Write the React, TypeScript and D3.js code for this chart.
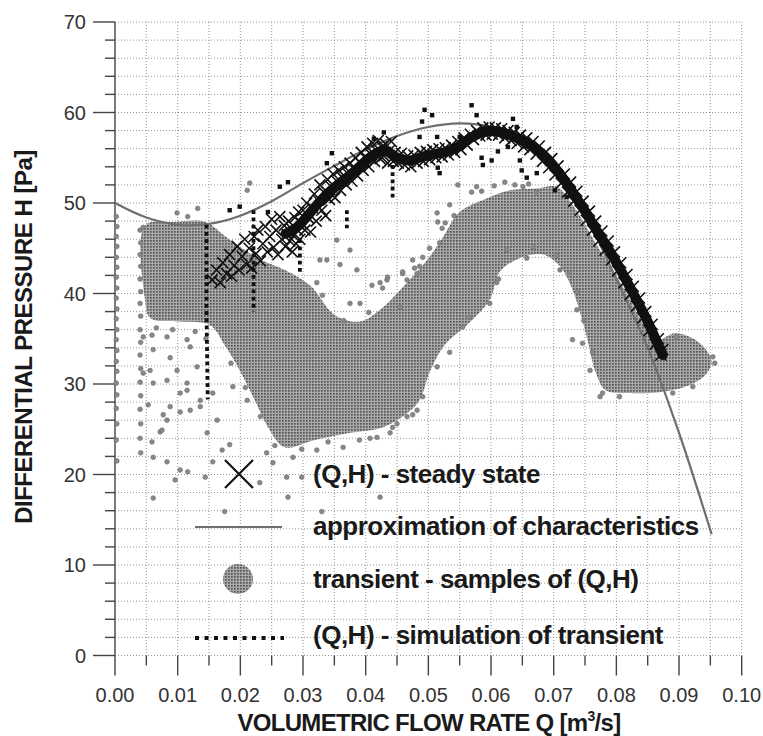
import React, { useEffect, useRef } from 'react';
import * as d3 from 'd3';

// axis ticks
const qTicks = [0, 0.01, 0.02, 0.03, 0.04, 0.05, 0.06, 0.07, 0.08, 0.09, 0.1];
const qTickLabels = ['0.00', '0.01', '0.02', '0.03', '0.04', '0.05', '0.06', '0.07', '0.08', '0.09', '0.10'];
const qMinorTicks = [0.005, 0.015, 0.025, 0.035, 0.045, 0.055, 0.065, 0.075, 0.085, 0.095];
const hTicks = [0, 10, 20, 30, 40, 50, 60, 70];
const hTickLabels = ['0', '10', '20', '30', '40', '50', '60', '70'];
const hMinorTicks = [2, 4, 6, 8, 12, 14, 16, 18, 22, 24, 26, 28, 32, 34, 36, 38, 42, 44, 46, 48, 52, 54, 56, 58, 62, 64, 66, 68];

// approximation of characteristics
const approxQ = [0, 0.005, 0.01, 0.015, 0.02, 0.025, 0.03, 0.035, 0.04, 0.045, 0.05, 0.055, 0.06, 0.065, 0.07, 0.075, 0.08, 0.085, 0.09, 0.0952];
const approxH = [50.0, 48.4, 47.6, 47.7, 48.6, 50.2, 52.2, 54.1, 55.9, 57.4, 58.4, 58.8, 58.4, 56.8, 53.6, 48.6, 41.6, 34.0, 24.6, 13.4];

// (Q,H) steady state
const steadyState = [
  [0.0155, 41.5], [0.0162, 42.6], [0.0168, 41.2], [0.0172, 43.4], [0.0178, 42.2], [0.0183, 44.3], [0.0186, 41.9], [0.019, 43.1],
  [0.0195, 45.2], [0.0198, 42.6], [0.0203, 44.1], [0.0207, 46.0], [0.021, 43.2], [0.0214, 45.0], [0.0218, 42.8], [0.0222, 46.3],
  [0.0225, 44.4], [0.0228, 47.0], [0.0232, 43.6], [0.0236, 45.5], [0.024, 47.4], [0.0243, 44.6], [0.0247, 46.3], [0.025, 48.2],
  [0.0253, 45.1], [0.0257, 47.0], [0.026, 44.3], [0.0263, 48.5], [0.0266, 46.0], [0.027, 47.5],
  [0.0272, 45.2], [0.0275, 46.5], [0.0277, 48.0], [0.0279, 45.8], [0.0281, 47.2], [0.0283, 44.6], [0.0285, 46.4], [0.0287, 48.4],
  [0.0289, 45.5], [0.0291, 47.0], [0.0293, 49.0], [0.0295, 46.0], [0.0297, 47.8],
  [0.03, 49.2], [0.0303, 47.0], [0.0306, 50.0], [0.0309, 48.3], [0.0312, 46.8], [0.0315, 49.5], [0.0318, 51.0], [0.0321, 48.0],
  [0.0324, 50.3], [0.0327, 52.0], [0.033, 49.2], [0.0333, 51.2], [0.0336, 48.6], [0.0339, 52.6], [0.0342, 50.4], [0.0345, 51.8],
  [0.0348, 53.2], [0.0351, 50.6], [0.0354, 52.4], [0.0357, 53.6], [0.036, 51.4], [0.0363, 52.8], [0.0366, 54.0], [0.0369, 52.0],
  [0.0372, 53.2], [0.0375, 54.4], [0.0378, 52.4], [0.0381, 53.8], [0.0384, 55.0], [0.0387, 53.0], [0.039, 54.5], [0.0393, 55.6],
  [0.0396, 53.6], [0.0399, 55.0], [0.0402, 56.2], [0.0405, 54.0], [0.0408, 55.4], [0.0411, 56.6], [0.0414, 54.6], [0.0417, 55.8],
  [0.042, 56.9], [0.0423, 54.9], [0.0426, 56.2], [0.0429, 55.2], [0.0432, 56.5], [0.0435, 54.4], [0.0438, 55.8], [0.0441, 56.8],
  [0.0444, 54.6], [0.0447, 55.6],
  [0.0452, 54.4], [0.0457, 55.5], [0.0462, 54.2], [0.0467, 55.2], [0.0472, 54.0], [0.0477, 55.3], [0.0482, 54.4], [0.0487, 55.6],
  [0.0492, 54.6], [0.0497, 55.7], [0.0502, 54.8], [0.0507, 55.9], [0.0512, 55.0], [0.0517, 56.0], [0.0522, 55.1], [0.0527, 56.1],
  [0.0532, 55.3], [0.0537, 56.4], [0.0542, 55.6], [0.0547, 56.8], [0.0552, 55.9], [0.0557, 57.2], [0.0562, 56.4], [0.0567, 57.6],
  [0.0572, 57.0], [0.0577, 58.0],
  [0.0582, 57.4], [0.0587, 58.3], [0.0592, 57.5], [0.0597, 58.4], [0.0602, 57.6], [0.0607, 58.3], [0.0612, 57.5], [0.0617, 58.2],
  [0.0622, 57.2], [0.0627, 58.0], [0.0632, 56.9], [0.0637, 57.8], [0.0642, 56.6], [0.0647, 57.5], [0.0652, 56.2], [0.0657, 57.2],
  [0.0662, 55.9], [0.0667, 56.8], [0.0672, 55.4], [0.0677, 56.3],
  [0.0682, 54.6], [0.0687, 55.6], [0.0692, 53.9], [0.0697, 54.9], [0.0702, 53.1], [0.0707, 54.1], [0.0712, 52.2], [0.0717, 53.2],
  [0.0722, 51.2], [0.0727, 52.3], [0.0732, 50.2], [0.0737, 51.3], [0.0742, 49.2], [0.0747, 50.2], [0.0752, 48.1], [0.0757, 49.1],
  [0.0762, 47.0], [0.0767, 48.0], [0.0772, 45.8], [0.0777, 46.9], [0.0782, 44.8], [0.0787, 45.8], [0.0792, 43.7], [0.0797, 44.6],
  [0.0802, 42.5], [0.0807, 43.4], [0.0812, 41.2], [0.0817, 42.1], [0.0822, 39.9], [0.0827, 40.8], [0.0832, 38.6], [0.0837, 39.5],
  [0.0842, 37.3], [0.0847, 38.0], [0.0852, 35.9], [0.0857, 36.6], [0.0862, 34.4], [0.0867, 35.0], [0.0871, 33.2], [0.0874, 33.8],
];
// dense core of the steady-state band
const steadyCore = [
  [0.0272, 46.6], [0.029, 47.3], [0.031, 48.8], [0.033, 50.4], [0.035, 51.7], [0.037, 52.8], [0.039, 54.0], [0.041, 55.2],
  [0.043, 55.8], [0.045, 55.0], [0.047, 54.7], [0.049, 55.1], [0.051, 55.4], [0.053, 55.7], [0.055, 56.3], [0.057, 57.3],
  [0.059, 57.9], [0.061, 57.9], [0.063, 57.5], [0.065, 56.9], [0.067, 56.1], [0.069, 54.9], [0.071, 53.2], [0.073, 51.2],
  [0.075, 49.1], [0.077, 46.8], [0.079, 44.6], [0.081, 42.2], [0.083, 39.6], [0.085, 36.9], [0.0865, 34.6], [0.0874, 33.2],
];

// transient - outline of the dense sample cloud
const transientCloud = [
  [0.0048, 47.5], [0.0096, 47.9], [0.0144, 47.9], [0.018, 46.1], [0.0228, 43.9], [0.0271, 42.6], [0.0311, 40.9], [0.0351, 37.6],
  [0.0391, 36.9], [0.0423, 38.2], [0.0455, 40.4], [0.0498, 43.7], [0.0523, 46.2], [0.055, 49.0], [0.0593, 50.5], [0.063, 51.4],
  [0.0673, 51.6], [0.0705, 51.8], [0.0725, 50.3], [0.0745, 48.2], [0.0765, 45.8], [0.079, 43.0], [0.0815, 40.2], [0.084, 37.0],
  [0.0862, 34.8], [0.0893, 35.6], [0.092, 35.1], [0.0943, 33.8], [0.0952, 32.4], [0.0941, 30.9], [0.0914, 29.8], [0.0869, 29.1],
  [0.0821, 29.0], [0.0783, 29.3], [0.0767, 31.3], [0.0754, 34.9], [0.0742, 37.9], [0.0729, 40.6], [0.071, 43.0], [0.0683, 44.3],
  [0.0646, 43.9], [0.0614, 42.4], [0.0598, 39.3], [0.0566, 36.8], [0.0526, 34.3], [0.0502, 31.3], [0.0486, 28.2], [0.0463, 26.6],
  [0.0427, 25.2], [0.0375, 24.6], [0.0319, 23.8], [0.0271, 23.0], [0.0247, 24.9], [0.0223, 28.2], [0.0199, 31.5], [0.0175, 34.3],
  [0.0152, 36.5], [0.0104, 36.9], [0.0056, 37.3], [0.0048, 39.3],
];

// transient - single samples outside the dense cloud
const transientSamples = [
  [0.0002, 48.5], [0.0003, 47.4], [0.0002, 46.3], [0.0003, 45.2], [0.0002, 44.0], [0.0003, 42.9], [0.0002, 41.8], [0.0003, 40.6],
  [0.0002, 39.5], [0.0003, 38.3], [0.0002, 37.2], [0.0003, 36.0], [0.0002, 34.9], [0.0003, 33.7], [0.0002, 32.5], [0.0003, 31.4],
  [0.0002, 30.1], [0.0003, 28.8], [0.0002, 27.3], [0.0003, 25.6], [0.0002, 23.8], [0.0003, 21.5],
  [0.004, 47.0], [0.0041, 45.6], [0.004, 44.3], [0.0041, 43.0], [0.004, 41.6], [0.0041, 40.2], [0.004, 38.9], [0.0041, 37.5],
  [0.004, 36.0], [0.0041, 34.6], [0.004, 33.2], [0.0041, 31.7], [0.004, 30.2], [0.0041, 28.7], [0.004, 27.2], [0.0041, 25.6],
  [0.004, 24.0], [0.0041, 22.4],
  [0.0045, 35.2], [0.0059, 35.4], [0.0083, 35.2], [0.0061, 33.8], [0.0088, 32.9], [0.0115, 34.9], [0.012, 34.1], [0.0099, 31.5],
  [0.0056, 31.5], [0.0083, 30.4], [0.0115, 30.1], [0.0131, 31.9], [0.0104, 29.0], [0.0088, 27.5], [0.0083, 26.0], [0.012, 27.1],
  [0.0136, 27.5], [0.0163, 26.0], [0.0147, 24.6], [0.0072, 24.7], [0.0061, 30.1], [0.0053, 27.7], [0.0077, 26.6], [0.0104, 26.9],
  [0.0059, 23.6], [0.0075, 24.9], [0.0061, 21.9], [0.0083, 21.4], [0.0096, 19.4], [0.0104, 20.5], [0.0116, 20.3], [0.0061, 17.4],
  [0.0156, 21.4], [0.0171, 22.7], [0.0183, 23.3], [0.0144, 19.7], [0.0175, 15.9], [0.0231, 19.1], [0.0252, 21.3], [0.0276, 17.5],
  [0.0274, 19.7], [0.0298, 19.7], [0.0324, 20.8], [0.0423, 17.5], [0.0115, 29.3], [0.0136, 28.2], [0.0156, 29.0], [0.0188, 29.7],
  [0.0211, 28.2], [0.0045, 31.2], [0.033, 15.9],
  [0.0099, 48.9], [0.0132, 49.4], [0.0116, 48.5], [0.0045, 47.3], [0.0215, 52.2], [0.0211, 51.4],
  [0.0338, 43.7], [0.0327, 43.7], [0.0359, 43.2], [0.0375, 44.8], [0.0354, 45.9], [0.0386, 42.6], [0.0391, 38.9], [0.0375, 38.9],
  [0.0434, 41.5], [0.0423, 41.2], [0.0459, 42.2], [0.0482, 42.2], [0.0475, 43.7], [0.0491, 44.0], [0.0518, 45.6], [0.0534, 49.8],
  [0.0514, 48.9], [0.0515, 47.9],
  [0.0242, 22.4], [0.0284, 21.9], [0.0322, 22.7], [0.0364, 23.0], [0.0407, 24.0], [0.0439, 24.6], [0.0466, 26.4], [0.0482, 27.1],
  [0.0491, 28.6], [0.0443, 25.2], [0.0418, 24.1],
  [0.0522, 47.2], [0.0569, 51.2], [0.0577, 51.8], [0.0638, 52.0], [0.0651, 51.8], [0.0547, 52.0], [0.0622, 52.3], [0.0673, 51.2],
  [0.0478, 42.8], [0.0459, 42.4], [0.0435, 41.8], [0.041, 40.9], [0.0427, 40.6], [0.0455, 38.5],
  [0.071, 42.6], [0.0737, 38.2], [0.073, 34.9], [0.0746, 34.5], [0.0758, 31.5], [0.0774, 28.6], [0.0657, 43.9], [0.0609, 41.2],
  [0.0598, 38.9], [0.0566, 37.4], [0.0555, 36.3], [0.0534, 33.5], [0.0514, 31.9], [0.0475, 26.6],
  [0.0896, 35.2], [0.0954, 33.0], [0.0957, 32.3], [0.0922, 29.7], [0.089, 29.0], [0.0805, 28.6], [0.0778, 29.0],
  [0.0466, 41.5], [0.0486, 43.0], [0.0502, 45.0], [0.0527, 47.8], [0.0541, 48.6], [0.0585, 51.3], [0.0605, 51.9], [0.066, 52.1],
  [0.0625, 44.8], [0.0668, 45.1], [0.0705, 44.2], [0.0725, 42.3], [0.0738, 40.2], [0.0748, 37.0], [0.0762, 33.5], [0.0612, 41.6],
  [0.0255, 23.2], [0.0298, 22.8], [0.034, 23.6], [0.039, 23.8], [0.045, 25.6], [0.0066, 36.2], [0.0092, 36.0], [0.0128, 35.8],
  [0.0145, 35.0], [0.0185, 32.3], [0.0208, 29.6], [0.0232, 26.4], [0.0331, 39.8], [0.0365, 37.0], [0.0405, 37.9], [0.0322, 41.2],
];

// (Q,H) simulation of transient
const simulationTraces = [
  [[0.0146, 47.6], [0.0146, 38.0], [0.0148, 28.3]],
  [[0.0221, 49.2], [0.0221, 38.0]],
  [[0.0295, 46.0], [0.0295, 42.4]],
  [[0.037, 49.2], [0.037, 47.2]],
  [[0.0443, 54.2], [0.0443, 50.6]],
];
const simulationPoints = [
  [0.0263, 51.8], [0.0276, 52.3], [0.0338, 54.4], [0.0346, 55.5], [0.0413, 57.1], [0.0429, 57.8], [0.049, 59.0], [0.0244, 49.0],
  [0.0183, 49.2], [0.0199, 49.6], [0.0494, 60.3], [0.0506, 59.7], [0.0569, 60.8], [0.0577, 59.7], [0.0635, 59.3], [0.0641, 58.4],
  [0.0486, 57.3], [0.0514, 57.3], [0.0515, 53.9], [0.0518, 53.3], [0.055, 57.3], [0.0585, 55.0], [0.0601, 54.7], [0.0587, 54.2],
  [0.0611, 55.7], [0.0627, 56.2], [0.0646, 54.7], [0.0649, 53.6], [0.0657, 52.8], [0.0673, 53.3], [0.0702, 51.4], [0.0721, 50.7],
];

const legendLabels = ['(Q,H) - steady state', 'approximation of characteristics', 'transient - samples of (Q,H)', '(Q,H) - simulation of transient'];

const FONT = '"Liberation Sans", Arial, sans-serif';

function Chart() {
  const svgRef = useRef<SVGSVGElement>(null);

  useEffect(() => {
    const svg = d3.select(svgRef.current);
    svg.selectAll('*').remove();

    const x = d3.scaleLinear().domain([0, 0.1]).range([115, 741.7]);
    const y = d3.scaleLinear().domain([0, 70]).range([655.5, 22]);

    const defs = svg.append('defs');
    const pat = defs.append('pattern').attr('id', 'halftone')
      .attr('width', 3).attr('height', 3).attr('patternUnits', 'userSpaceOnUse');
    pat.append('rect').attr('width', 3).attr('height', 3).attr('fill', '#a9a9a9');
    pat.append('rect').attr('width', 1.7).attr('height', 1.7).attr('fill', '#555');

    // grid
    const grid = svg.append('g').attr('stroke', '#8a8a8a').attr('stroke-width', 0.9).attr('stroke-dasharray', '1,2');
    [...hTicks, ...hMinorTicks].forEach(h => {
      grid.append('line').attr('x1', x(0)).attr('x2', x(0.1)).attr('y1', y(h)).attr('y2', y(h));
    });
    [...qTicks.slice(1), ...qMinorTicks].forEach(q => {
      grid.append('line').attr('x1', x(q)).attr('x2', x(q)).attr('y1', y(70)).attr('y2', y(0));
    });

    // axes
    const ax = svg.append('g').attr('stroke', '#444').attr('stroke-width', 1.4);
    ax.append('line').attr('x1', x(0)).attr('x2', x(0)).attr('y1', y(70)).attr('y2', y(0) + 20);
    hTicks.forEach(h => ax.append('line').attr('x1', x(0) - 22).attr('x2', x(0)).attr('y1', y(h)).attr('y2', y(h)));
    hMinorTicks.forEach(h => ax.append('line').attr('x1', x(0) - 10).attr('x2', x(0)).attr('y1', y(h)).attr('y2', y(h)));
    qTicks.slice(1).forEach(q => ax.append('line').attr('x1', x(q)).attr('x2', x(q)).attr('y1', y(0)).attr('y2', y(0) + 20));
    qMinorTicks.forEach(q => ax.append('line').attr('x1', x(q)).attr('x2', x(q)).attr('y1', y(0)).attr('y2', y(0) + 10));

    svg.append('g').selectAll('text').data(hTicks).enter().append('text')
      .attr('x', x(0) - 29).attr('y', d => y(d) + 7)
      .attr('text-anchor', 'end').attr('font-family', FONT).attr('font-size', 20).attr('fill', '#333')
      .text((d, i) => hTickLabels[i]);
    svg.append('g').selectAll('text').data(qTicks).enter().append('text')
      .attr('x', d => x(d)).attr('y', 702)
      .attr('text-anchor', 'middle').attr('font-family', FONT).attr('font-size', 20).attr('fill', '#333')
      .text((d, i) => qTickLabels[i]);

    // transient cloud
    const line = d3.line<number[]>().x(d => x(d[0])).y(d => y(d[1]));
    svg.append('path')
      .attr('d', d3.line<number[]>().x(d => x(d[0])).y(d => y(d[1])).curve(d3.curveCatmullRomClosed)(transientCloud))
      .attr('fill', 'url(#halftone)');
    svg.append('g').selectAll('circle').data(transientSamples).enter().append('circle')
      .attr('cx', d => x(d[0])).attr('cy', d => y(d[1])).attr('r', 2.4)
      .attr('fill', '#888').attr('stroke', '#666').attr('stroke-width', 0.5);

    // approximation
    const approx = approxQ.map((q, i) => [q, approxH[i]]);
    svg.append('path')
      .attr('d', d3.line<number[]>().x(d => x(d[0])).y(d => y(d[1])).curve(d3.curveCatmullRom)(approx))
      .attr('fill', 'none').attr('stroke', '#6e6e6e').attr('stroke-width', 2.2);

    // steady state: dense core + crosses
    svg.append('path')
      .attr('d', d3.line<number[]>().x(d => x(d[0])).y(d => y(d[1])).curve(d3.curveCatmullRom)(steadyCore))
      .attr('fill', 'none').attr('stroke', '#111').attr('stroke-width', 10).attr('stroke-linecap', 'round');
    const s = 5.5;
    const gx = svg.append('g').attr('stroke', '#111').attr('stroke-width', 1.6);
    steadyState.forEach(d => {
      const cx = x(d[0]), cy = y(d[1]);
      gx.append('path').attr('d', `M${cx - s},${cy - s}L${cx + s},${cy + s}M${cx - s},${cy + s}L${cx + s},${cy - s}`);
    });

    // simulation
    simulationTraces.forEach(t => {
      svg.append('path').attr('d', line(t))
        .attr('fill', 'none').attr('stroke', '#111').attr('stroke-width', 3.8).attr('stroke-dasharray', '3.8,3.4');
    });
    svg.append('g').selectAll('rect').data(simulationPoints).enter().append('rect')
      .attr('x', d => x(d[0]) - 2.2).attr('y', d => y(d[1]) - 2.2).attr('width', 4.4).attr('height', 4.4).attr('fill', '#111');

    // legend
    const lg = svg.append('g');
    lg.append('path').attr('d', 'M225,460L253,488M225,488L253,460').attr('stroke', '#111').attr('stroke-width', 2.2);
    lg.append('line').attr('x1', 195).attr('x2', 282).attr('y1', 527).attr('y2', 527).attr('stroke', '#6e6e6e').attr('stroke-width', 2.2);
    lg.append('circle').attr('cx', 238).attr('cy', 579).attr('r', 15).attr('fill', 'url(#halftone)');
    lg.append('line').attr('x1', 195).attr('x2', 284).attr('y1', 638).attr('y2', 638)
      .attr('stroke', '#111').attr('stroke-width', 4).attr('stroke-dasharray', '4,5.5');
    const baselines = [483, 535, 588, 644];
    legendLabels.forEach((t, i) => {
      lg.append('text').attr('x', 313).attr('y', baselines[i])
        .attr('font-family', FONT).attr('font-weight', 'bold').attr('font-size', 26).attr('letter-spacing', -0.5)
        .attr('fill', '#1a1a1a').text(t);
    });

    // axis titles
    const xt = svg.append('text').attr('x', 429).attr('y', 731).attr('text-anchor', 'middle')
      .attr('font-family', FONT).attr('font-weight', 'bold').attr('font-size', 24).attr('letter-spacing', -0.7).attr('fill', '#1a1a1a');
    xt.append('tspan').text('VOLUMETRIC FLOW RATE Q [m');
    xt.append('tspan').attr('font-size', 14).attr('dy', -10).text('3');
    xt.append('tspan').attr('dy', 10).text('/s]');

    svg.append('text').attr('transform', 'translate(32,337) rotate(-90)').attr('text-anchor', 'middle')
      .attr('font-family', FONT).attr('font-weight', 'bold').attr('font-size', 24).attr('letter-spacing', -0.5).attr('fill', '#1a1a1a')
      .text('DIFFERENTIAL PRESSURE H [Pa]');
  }, []);

  return (
    <svg ref={svgRef} width={763} height={736}
      style={{ position: 'absolute', left: 0, top: 0, background: '#fff' }} />
  );
}

export default function App() {
  return <Chart />;
}
